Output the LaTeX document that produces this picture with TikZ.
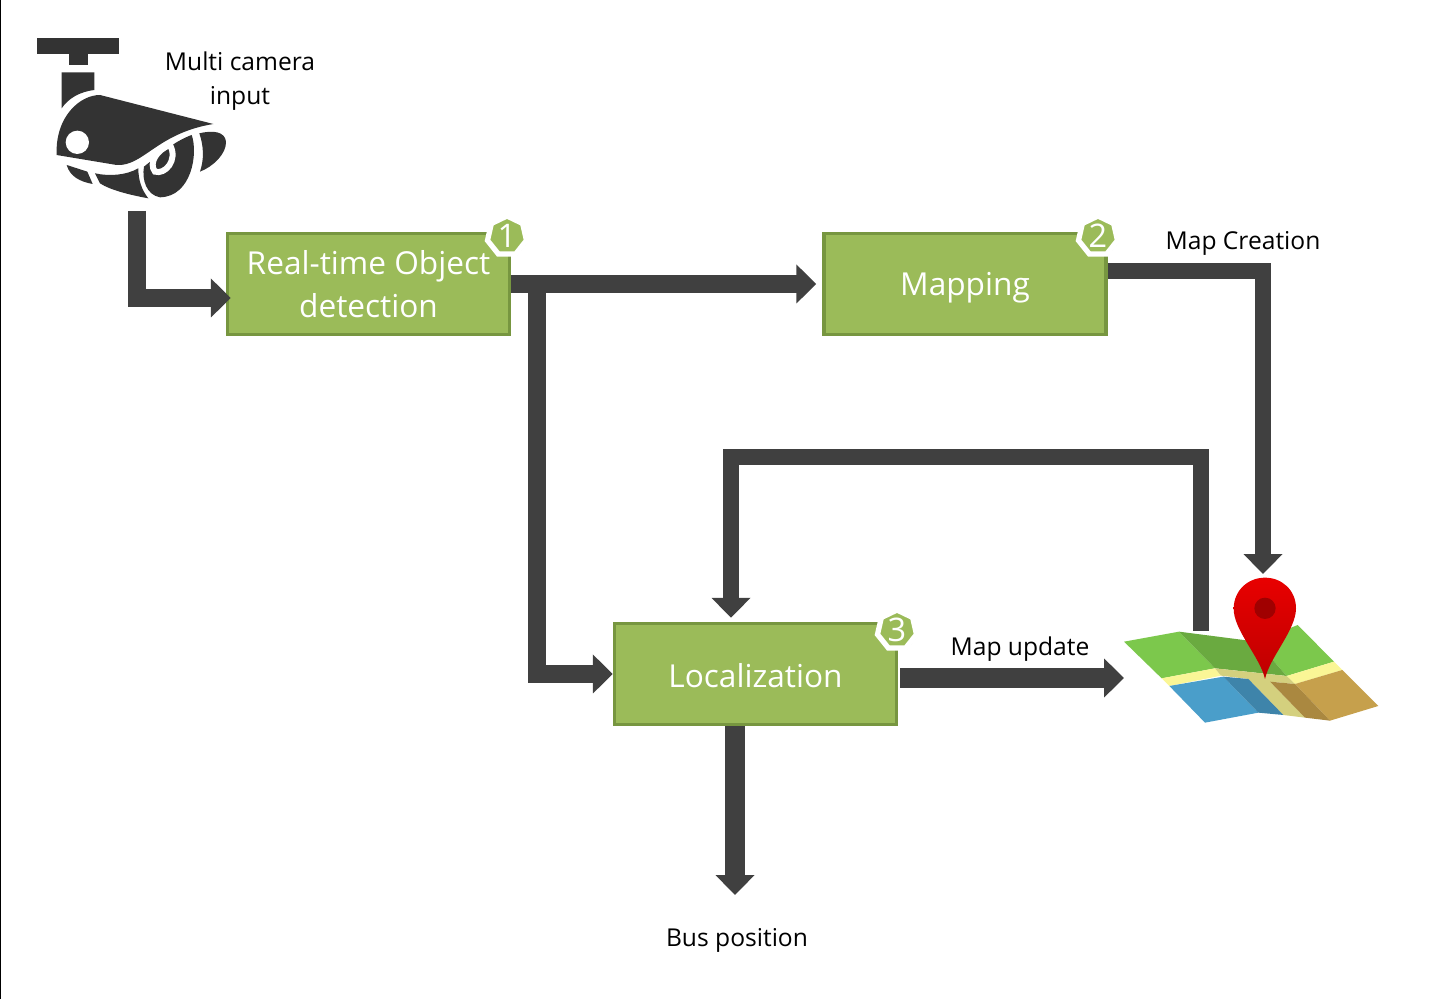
\documentclass[tikz,border=0pt]{standalone}
\usepackage{fontspec}
\setmainfont{Open Sans}
\usetikzlibrary{positioning,arrows.meta,shapes.geometric,shadows}
\definecolor{boxgreen}{HTML}{9BBB59}
\definecolor{boxedge}{HTML}{779640}
\definecolor{flowgray}{HTML}{404040}
\definecolor{camgray}{HTML}{333333}

\begin{document}
\begin{tikzpicture}[
        x=0.02cm,
        y=-0.02cm,
        block/.style={
            rectangle,
            draw=boxedge,
            fill=boxgreen,
            line width=2pt,
            text=white,
            align=center,
            font=\fontsize{18}{24.4}\selectfont,
            minimum width=5.64cm,
            minimum height=2.02cm
        },
        badge/.style={
            regular polygon,
            regular polygon sides=7,
            draw=white,
            fill=boxgreen,
            line width=3pt,
            minimum size=0.8cm,
            inner sep=0pt,
            text=white,
            drop shadow={shadow xshift=0.3mm,shadow yshift=-0.3mm,opacity=0.3},
            font=\fontsize{18.5}{18.5}\selectfont
        },
        label/.style={
            align=center,
            font=\fontsize{14}{19.3}\selectfont
        },
        line/.style={
            draw=flowgray,
            line width=10pt,
            -{Triangle[length=11.3pt,width=21.5pt]}
        },
      ]
        \useasboundingbox (0,0) rectangle (1437,999);
        \fill [black] (0,0) rectangle (1.5,999);

        % camera, in zoomed-up units
        \begin{scope}[shift={(0,20)},x=0.00667cm,y=-0.00667cm,camgray]
          \fill (110,55) rectangle (358,103);
          \fill (207,103) rectangle (263,135);
          \fill (185,157) -- (283,157) -- (283,210) .. controls (240,215) and (205,235) .. (185,265) -- cycle;
          \fill (640,312) -- (300,225) .. controls (240,225) and (165,290) .. (170,405)
            -- (350,435) .. controls (430,440) and (470,340) .. (640,312) -- cycle;
          \fill [white] (232,367) circle (35);
          \fill (200,435) -- (262,455) -- (278,492) .. controls (240,485) and (210,470) .. (200,435) -- cycle;
          \fill (285,460) .. controls (330,470) and (380,465) .. (415,445)
            .. controls (415,480) and (425,510) .. (445,535)
            .. controls (390,525) and (330,510) .. (300,490) -- cycle;
          \fill (432,440) .. controls (470,410) and (520,365) .. (575,345)
            .. controls (595,400) and (575,530) .. (480,532)
            .. controls (440,525) and (425,480) .. (432,440) -- cycle;
          \filldraw [draw=white,line width=3.4pt] (510,375) .. controls (470,390) and (445,430) .. (465,455)
            .. controls (495,465) and (535,420) .. (510,375) -- cycle;
          \fill (598,340) .. controls (640,330) and (675,335) .. (678,365)
            .. controls (680,400) and (640,440) .. (600,455)
            .. controls (612,420) and (612,380) .. (598,340) -- cycle;
        \end{scope}

        % map with pin, in zoomed-up units
        \begin{scope}[shift={(1110,560)},x=0.00667cm,y=-0.00667cm]
          \fill [fill={rgb,255:red,124;green,200;blue,76}] (42,245) -- (207,215) -- (315,325) -- (155,355) -- cycle;
          \fill [fill={rgb,255:red,124;green,200;blue,76}] (440,245) -- (563,195) -- (672,305) -- (530,348) -- cycle;
          \fill [fill={rgb,255:red,106;green,170;blue,64}] (207,215) -- (440,245) -- (530,348) -- (315,325) -- cycle;
          \fill [fill={rgb,255:red,250;green,246;blue,150}] (155,355) -- (315,325) -- (333,347) -- (178,378) -- cycle;
          \fill [fill={rgb,255:red,250;green,246;blue,150}] (530,348) -- (672,305) -- (697,330) -- (555,372) -- cycle;
          \fill [fill={rgb,255:red,212;green,208;blue,126}] (315,325) -- (530,348) -- (555,372) -- (480,365) -- (585,473) -- (520,465) -- (415,357) -- (333,347) -- cycle;
          \fill [fill={rgb,255:red,74;green,158;blue,202}] (178,378) -- (340,350) -- (445,458) -- (285,488) -- cycle;
          \fill [fill={rgb,255:red,62;green,132;blue,170}] (340,350) -- (415,357) -- (520,465) -- (445,458) -- cycle;
          \fill [fill={rgb,255:red,198;green,160;blue,76}] (555,372) -- (697,330) -- (805,438) -- (660,482) -- cycle;
          \fill [fill={rgb,255:red,170;green,136;blue,64}] (480,365) -- (555,372) -- (660,482) -- (585,473) -- cycle;
          \shade [top color={rgb,255:red,232;green,0;blue,0},bottom color={rgb,255:red,190;green,0;blue,0}]
            (465,357) .. controls (450,290) and (370,210) .. (371,145)
            .. controls (372,90) and (415,53) .. (465,53)
            .. controls (515,53) and (558,90) .. (558,145)
            .. controls (558,210) and (480,290) .. (465,357) -- cycle;
          \fill [fill={rgb,255:red,160;green,0;blue,0}] (465,145) circle (32);
        \end{scope}

        \node [block] (detection) at (368.5,284) {Real-time Object\\detection};
        \node [block] (mapping) at (965,284) {\raisebox{-6.8pt}[0pt][0pt]{Mapping}};
        \node [block] (localization) at (755.5,674) {\raisebox{-7.6pt}[0pt][0pt]{Localization}};
        \node [badge] (badge1) at (507,236) {1};
        \node [badge] (badge2) at (1098,236) {2};
        \node [badge] (badge3) at (897,630) {3};

        \node [label] (camera-label) at (240,81) {Multi camera\\input};
        \node [label] (creation-label) at (1243,243.5) {Map Creation};
        \node [label] (update-label) at (1020,649) {Map update};
        \node [label] (position-label) at (737,940.5) {Bus position};

        \coordinate (camera) at (137,211);
        \coordinate (split) at (537,284);
        \coordinate (map-top) at (1263,574);
        \coordinate (map-back) at (1201,631);
        \coordinate (map-left) at (1124,678);
        \coordinate (corner) at (731,457);
        \coordinate (position) at (735,895);

        \path [line] (camera) |- ([xshift=0.1cm,yshift=-0.28cm]detection.west);
        \path [line] (detection.east) -- ([xshift=-0.12cm]mapping.west);
        \path [line] (split) |- (localization.west);
        \path [line,line width=9.4pt] ([yshift=0.26cm]mapping.east) -| (map-top);
        \path [line,line width=9.4pt] (map-back) |- (corner) -- ([yshift=0.08cm]localization.north -| corner);
        \path [line,line width=11pt] ([xshift=0.04cm]localization.east |- map-left) -- (map-left);
        \path [line,line width=11pt] (localization.south -| position) -- (position);
      \end{tikzpicture}
\end{document}
